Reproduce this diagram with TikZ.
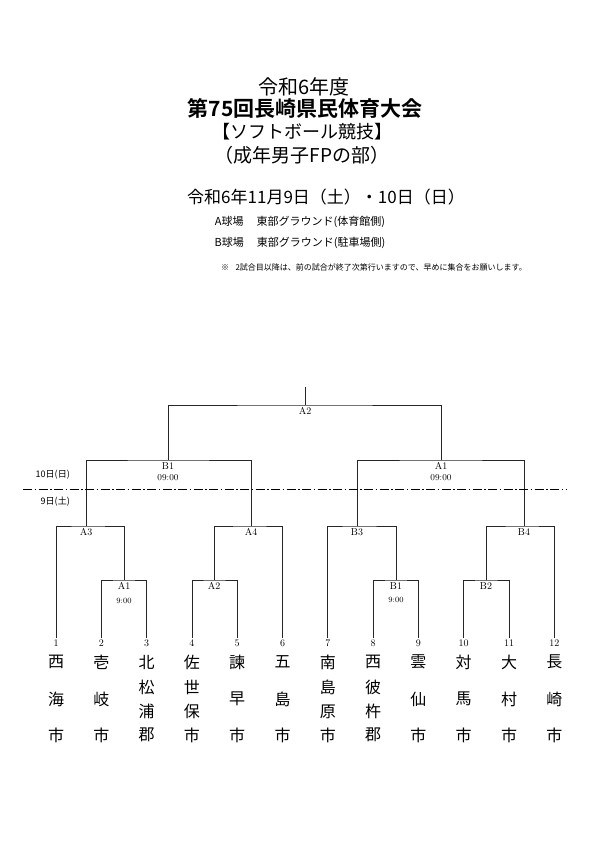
\documentclass[tikz,border=0pt]{standalone}
\usepackage{fontspec}
\usepackage{tikz}
\usetikzlibrary{positioning}
\newfontfamily\cjk[BoldFont={Noto Sans CJK JP Bold}]{Noto Sans CJK JP}
\newcommand{\fs}[1]{\fontsize{#1}{#1}\selectfont}

\begin{document}
\begin{tikzpicture}[
  x=1pt, y=-1pt,
  title/.style={font=\cjk\fs{19}, inner sep=0pt},
  info/.style={font=\cjk\fs{10}, inner sep=0pt},
  team/.style={font=\cjk\fs{16}, align=center, inner sep=0pt},
  num/.style={font=\fs{10}, inner sep=1pt},
  lbl/.style={font=\fs{10}, inner sep=2pt, below},
  tm/.style={font=\fs{8}, inner sep=0pt},
  day/.style={font=\cjk\fs{9}, anchor=east, inner sep=0pt},
  line/.style={draw=black!85, line width=0.8pt}
]
  \useasboundingbox (0,0) rectangle (595,842);

  % heading
  \node [title, font=\cjk\fs{20}] (yr) at (304,87) {令和6年度};
  \node [title, font=\cjk\bfseries\fs{21}] (meet) at (305,108) {第75回長崎県民体育大会};
  \node [title, font=\cjk\fs{18}] (sport) at (302,132) {【ソフトボール競技】};
  \node [title] (cat) at (302,155) {（成年男子FPの部）};

  \node [info, font=\cjk\fs{17}] (date) at (326,197) {令和6年11月9日（土）・10日（日）};
  \node [info, font=\cjk\fs{11}] (fa) at (300,222) {A球場\hspace{1.2em}東部グラウンド(体育館側)};
  \node [info, font=\cjk\fs{11}] (fb) at (300,243) {B球場\hspace{1.2em}東部グラウンド(駐車場側)};
  \node [info, font=\cjk\fs{8}] (note) at (374,267) {※\hspace{0.8em}2試合目以降は、前の試合が終了次第行いますので、早めに集合をお願いします。};

  % teams
  \foreach \i/\ca/\cb/\cc in {1/西/海/市, 2/壱/岐/市, 3/北/松\\[8pt]浦/郡, 4/佐/世\\[8pt]保/市,
      5/諫/早/市, 6/五/島/市, 7/南/島\\[8pt]原/市, 8/西/彼\\[8pt]杵/郡,
      9/雲/仙/市, 10/対/馬/市, 11/大/村/市, 12/長/崎/市} {
    \pgfmathsetmacro{\tx}{56+(\i-1)*45.3}
    \node [num] (n\i) at (\tx,643) {\i};
    \node [team] (t\i) at (\tx,662) {\ca};
    \node [team] (m\i) at (\tx,699) {\cb};
    \node [team] (b\i) at (\tx,735) {\cc};
  }

  % junctions
  \coordinate (qA1) at (124,580);
  \coordinate (qA2) at (214,580);
  \coordinate (qB1) at (396,580);
  \coordinate (qB2) at (486,580);
  \coordinate (sA3) at (86,526);
  \coordinate (sA4) at (251,526);
  \coordinate (sB3) at (357,526);
  \coordinate (sB4) at (524,526);
  \coordinate (fB1) at (168,460);
  \coordinate (fA1) at (441,460);
  \coordinate (fin) at (305,405);
  \coordinate (top) at (305,387);

  % bracket
  \draw [line] (n2.north) |- (qA1) -| (n3.north);
  \draw [line] (n4.north) |- (qA2) -| (n5.north);
  \draw [line] (n8.north) |- (qB1) -| (n9.north);
  \draw [line] (n10.north) |- (qB2) -| (n11.north);
  \draw [line] (n1.north) |- (sA3) -| (qA1);
  \draw [line] (qA2) |- (sA4) -| (n6.north);
  \draw [line] (n7.north) |- (sB3) -| (qB1);
  \draw [line] (qB2) |- (sB4) -| (n12.north);
  \draw [line] (sA3) |- (fB1) -| (sA4);
  \draw [line] (sB3) |- (fA1) -| (sB4);
  \draw [line] (fB1) |- (fin) -| (fA1);
  \draw [line] (fin) -- (top);

  % game labels
  \node [lbl] (lqA1) at (qA1) {A1};
  \node [tm, below=6pt of lqA1] {9:00};
  \node [lbl] at (qA2) {A2};
  \node [lbl] (lqB1) at (qB1) {B1};
  \node [tm, below=6pt of lqB1] {9:00};
  \node [lbl] at (qB2) {B2};
  \node [lbl] at (sA3) {A3};
  \node [lbl] at (sA4) {A4};
  \node [lbl] at (sB3) {B3};
  \node [lbl] at (sB4) {B4};
  \node [lbl] (lfB1) at (fB1) {B1};
  \node [tm, font=\fs{9}, below=3pt of lfB1] {09:00};
  \node [lbl] (lfA1) at (fA1) {A1};
  \node [tm, font=\fs{9}, below=3pt of lfA1] {09:00};
  \node [lbl] at (fin) {A2};

  % day divider
  \coordinate (dl) at (23,489);
  \coordinate (dr) at (567,489);
  \draw [black, line width=0.8pt, dash pattern=on 9pt off 2.5pt on 1.5pt off 2.5pt] (dl) -- (dr);
  \node [day] (sun) at (70,475) {10日(日)};
  \node [day] (sat) at (70,502) {9日(土)};
\end{tikzpicture}
\end{document}
